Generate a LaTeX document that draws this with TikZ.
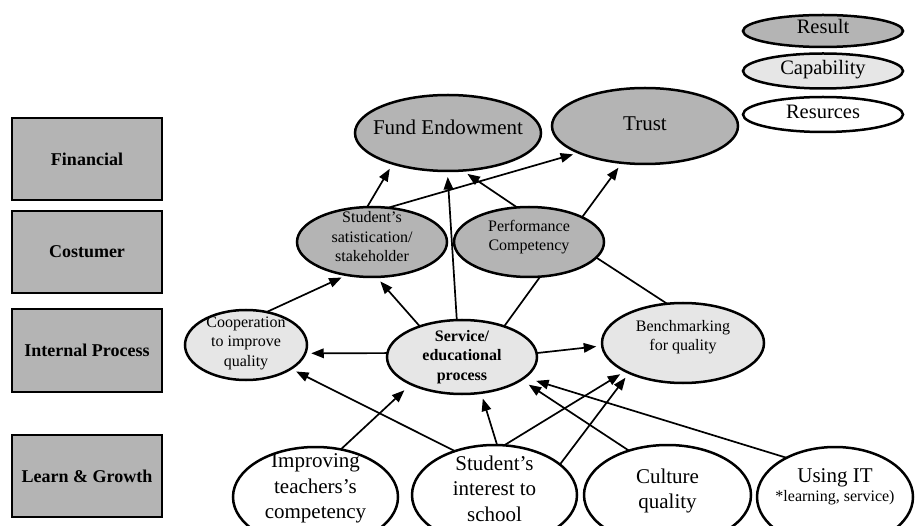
\documentclass[tikz,border=0pt]{standalone}
\usepackage{fontspec}
\setmainfont{Liberation Serif}
\usetikzlibrary{shapes.geometric,arrows.meta}
\definecolor{resgray}{RGB}{180,180,180}
\definecolor{capgray}{RGB}{230,230,230}
\begin{document}
\begin{tikzpicture}[x=1pt,y=-1pt,
  ellbase/.style={ellipse, draw, line width=2.5pt, inner sep=0pt, outer sep=0pt},
  resell/.style={ellbase, fill=resgray},
  capell/.style={ellbase, fill=capgray},
  srcell/.style={ellbase, fill=white},
  perbox/.style={draw, line width=2.5pt, fill=resgray, minimum width=150pt, inner sep=0pt,
              font=\fontsize{18}{21}\selectfont\bfseries},
  smalltxt/.style={align=center, inner sep=0pt, font=\fontsize{16}{19.5}\selectfont},
  smallbold/.style={align=center, inner sep=0pt, font=\fontsize{16}{19.5}\selectfont\bfseries},
  bigtxt/.style={align=center, inner sep=0pt, font=\fontsize{21}{25.5}\selectfont},
  legtxt/.style={align=center, inner sep=0pt, font=\fontsize{20.5}{24}\selectfont},
  arrline/.style={line width=1.7pt, -{Triangle[length=12.5pt,width=9.5pt]}, shorten >=6pt},
  plainline/.style={line width=1.7pt}]
\useasboundingbox (0,0) rectangle (915,526);
\clip (0,0) rectangle (915,526);

% perspective boxes
\node[perbox, minimum height=82pt] (fin) at (87,159) {Financial};
\node[perbox, minimum height=82pt] (cos) at (87,252) {Costumer};
\node[perbox, minimum height=83pt] (ip) at (87,350.5) {Internal Process};
\node[perbox, minimum height=82pt] (lg) at (87,476) {Learn \& Growth};

% legend
\node[resell, minimum width=160pt, minimum height=32pt] (lres) at (823,31) {};
\node[capell, minimum width=160pt, minimum height=35pt] (lcap) at (823,71) {};
\node[srcell, minimum width=160pt, minimum height=35pt] (lrsc) at (823,114.5) {};
\node[legtxt] (lresT) at ([yshift=5pt]lres.center) {Result};
\node[legtxt] (lcapT) at ([yshift=1pt]lcap.center) {Capability};
\node[legtxt] (lrscT) at ([yshift=3pt]lrsc.center) {Resurces};

% ellipses
\node[resell, minimum width=186pt, minimum height=76pt] (fund) at (448,133) {};
\node[resell, minimum width=186pt, minimum height=76pt] (trust) at (645,126) {};
\node[resell, minimum width=150pt, minimum height=70pt] (sat) at (372,242) {};
\node[resell, minimum width=150pt, minimum height=70pt] (perf) at (529,242) {};
\node[capell, minimum width=122pt, minimum height=70pt] (coop) at (246,345) {};
\node[capell, minimum width=150pt, minimum height=74pt] (serv) at (462,357) {};
\node[capell, minimum width=162pt, minimum height=80pt] (bench) at (683,343) {};
\node[srcell, minimum width=165pt, minimum height=100pt] (impr) at (315.5,497) {};
\node[srcell, minimum width=165pt, minimum height=100pt] (intr) at (494.5,495) {};
\node[srcell, minimum width=167pt, minimum height=100pt] (cult) at (667.5,495) {};
\node[srcell, minimum width=156pt, minimum height=100pt] (usit) at (835,497) {};

% texts
\node[bigtxt] (fundT) at ([yshift=6pt]fund.center) {Fund Endowment};
\node[bigtxt] (trustT) at ([yshift=2pt]trust.center) {Trust};
\node[smalltxt] (satT) at ([yshift=5pt]sat.center) {Student’s\\satistication/\\stakeholder};
\node[smalltxt] (perfT) at ([yshift=5pt]perf.center) {Performance\\Competency};
\node[smalltxt] (coopT) at ([yshift=2pt]coop.center) {Cooperation\\to improve\\quality};
\node[smallbold] (servT) at (serv.center) {Service/\\educational\\process};
\node[smalltxt] (benchT) at ([yshift=6pt]bench.center) {Benchmarking\\for quality};
\node[bigtxt] (imprT) at ([yshift=8.5pt]impr.center) {Improving\\teachers’s\\competency};
\node[bigtxt] (intrT) at ([yshift=6.5pt]intr.center) {Student’s\\interest to\\school};
\node[bigtxt] (cultT) at ([yshift=4pt]cult.center) {Culture\\quality};
\node[bigtxt] (usitT) at ([yshift=10pt]usit.center) {Using IT\\[-6pt]{\fontsize{16}{19}\selectfont *learning, service)}};

% connectors
\draw[arrline] (sat.98) -- (fund.209);
\draw[arrline] (sat.65) -- (trust.202);
\draw[arrline] (perf.109) -- (fund.291);
\draw[arrline] (perf.25) -- (trust.238);
\draw[arrline] (serv.98) -- (fund.269);
\draw[arrline] (serv.144) -- (sat.277);
\draw[arrline] (coop.58) -- (sat.233);
\draw[plainline] (serv.36) -- (perf.288);
\draw[plainline] (perf.347) -- (bench.112);
\draw[arrline] (serv.177) -- (coop.352);
\draw[arrline] (serv.3) -- (bench.182);
\draw[arrline] (intr.132) -- (coop.332);
\draw[arrline, shorten >=9pt] (impr.62) -- (serv.208);
\draw[arrline] (intr.87) -- (serv.298);
\draw[arrline] (intr.79) -- (bench.206);
\draw[arrline] (intr.25) -- (bench.209);
\draw[arrline, shorten >=9pt] (cult.131) -- (serv.339);
\draw[arrline, shorten >=12pt] (usit.141) -- (serv.342);
\end{tikzpicture}
\end{document}
